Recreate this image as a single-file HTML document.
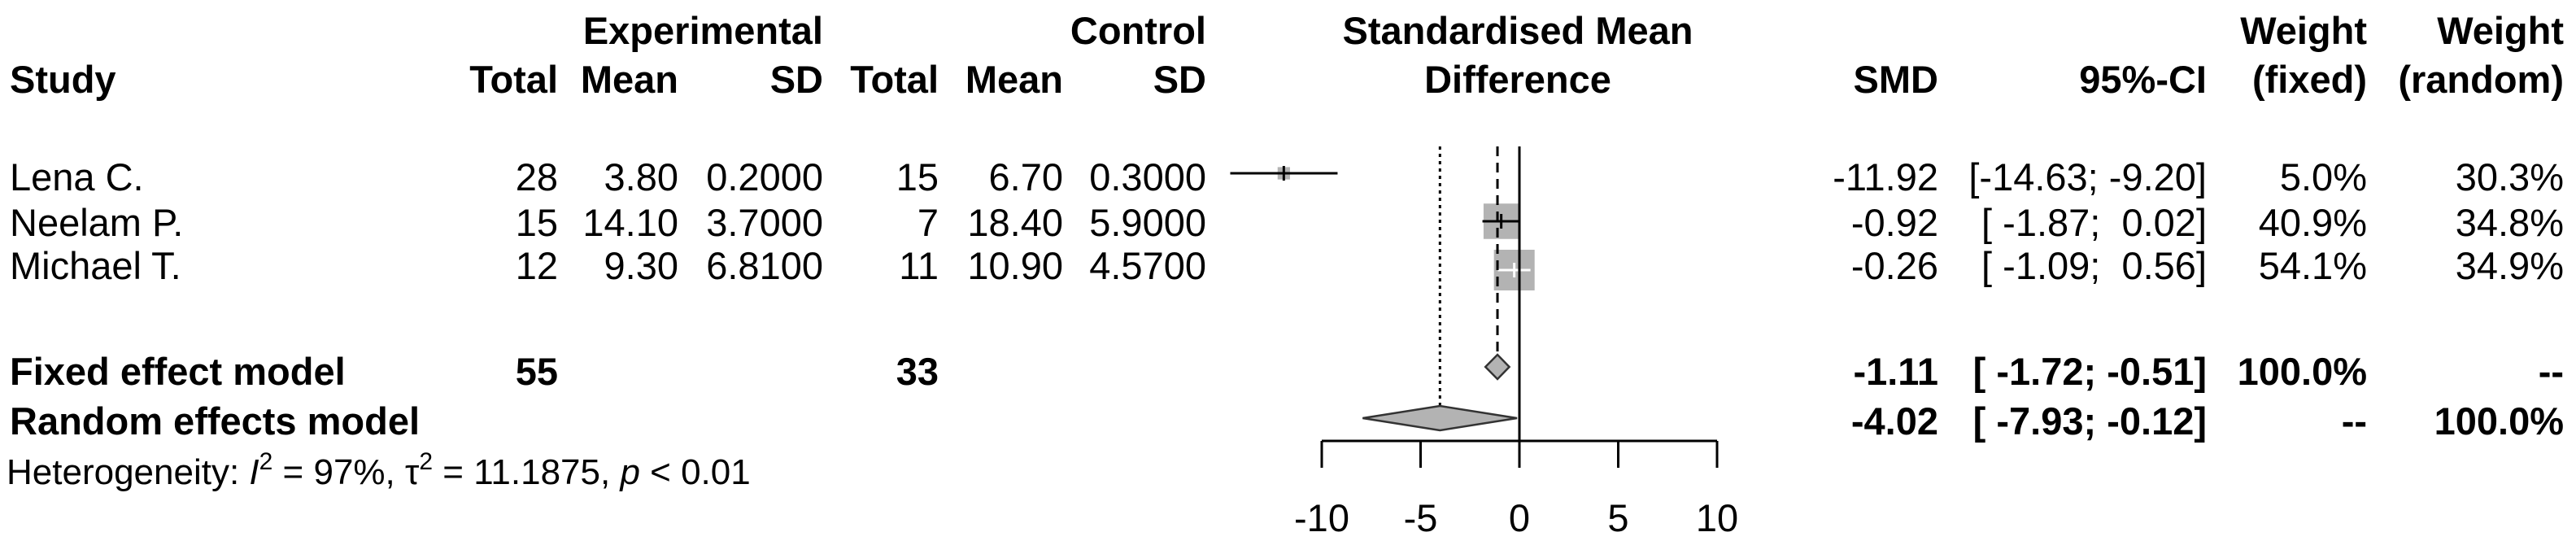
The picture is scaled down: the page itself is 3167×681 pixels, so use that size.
<!DOCTYPE html>
<html><head><meta charset="utf-8"><style>
html,body{margin:0;padding:0;background:#fff;}
svg{display:block;}
text{font-family:"Liberation Sans",Arial,sans-serif;font-size:47px;fill:#000;white-space:pre;}
.b{font-weight:bold;}
</style></head><body>
<svg id="chart" width="3167" height="681" viewBox="0 0 3167 681" xmlns="http://www.w3.org/2000/svg">
<g>
<text class="b" x="1012" y="54" text-anchor="end">Experimental</text>
<text class="b" x="1483" y="54" text-anchor="end">Control</text>
<text class="b" x="1866" y="54" text-anchor="middle">Standardised Mean</text>
<text class="b" x="1866" y="114" text-anchor="middle">Difference</text>
<text class="b" x="2910" y="54" text-anchor="end">Weight</text>
<text class="b" x="3152" y="54" text-anchor="end">Weight</text>
<text class="b" x="12" y="114">Study</text>
<text class="b" x="686" y="114" text-anchor="end">Total</text>
<text class="b" x="834" y="114" text-anchor="end">Mean</text>
<text class="b" x="1012" y="114" text-anchor="end">SD</text>
<text class="b" x="1154" y="114" text-anchor="end">Total</text>
<text class="b" x="1307" y="114" text-anchor="end">Mean</text>
<text class="b" x="1483" y="114" text-anchor="end">SD</text>
<text class="b" x="2383" y="114" text-anchor="end">SMD</text>
<text class="b" x="2713" y="114" text-anchor="end">95%-CI</text>
<text class="b" x="2910" y="114" text-anchor="end">(fixed)</text>
<text class="b" x="3152" y="114" text-anchor="end">(random)</text>
</g>
<g id="rows"></g>
<g id="plot"></g>
<text x="8" y="595" style="font-size:44px;white-space:normal">Heterogeneity: <tspan font-style="italic">I</tspan><tspan dy="-18" style="font-size:30px">2</tspan><tspan dy="18"> = 97%, τ</tspan><tspan dy="-18" style="font-size:30px">2</tspan><tspan dy="18"> = 11.1875, </tspan><tspan font-style="italic">p</tspan> &lt; 0.01</text>
</svg>
<script>
const studies = ["Lena C.", "Neelam P.", "Michael T."];
const expTotal = [28, 15, 12];
const expMean = ["3.80", "14.10", "9.30"];
const expSD = ["0.2000", "3.7000", "6.8100"];
const ctrlTotal = [15, 7, 11];
const ctrlMean = ["6.70", "18.40", "10.90"];
const ctrlSD = ["0.3000", "5.9000", "4.5700"];
const smd = [-11.92, -0.92, -0.26];
const ciLow = [-14.63, -1.87, -1.09];
const ciHigh = [-9.20, 0.02, 0.56];
const wFixed = [5.0, 40.9, 54.1];
const wRandom = [30.3, 34.8, 34.9];
const fixedModel = [-1.11, -1.72, -0.51];
const randomModel = [-4.02, -7.93, -0.12];
const xTicks = [-10, -5, 0, 5, 10];

const NS = "http://www.w3.org/2000/svg";
const X0 = 1868, PXU = 24.3;
function xs(v){ return X0 + v * PXU; }
function mk(tag, attrs, parent, txt){
  const e = document.createElementNS(NS, tag);
  for (const k in attrs) e.setAttribute(k, attrs[k]);
  if (txt !== undefined) e.textContent = txt;
  parent.appendChild(e); return e;
}
function fmt(v){ return v.toFixed(2); }
function ci(l,h){
  const a = l.toFixed(2), b = h.toFixed(2);
  return "[" + (a.length < 6 ? " " : "") + a + "; " + (b.length < 5 ? " " : "") + b + "]";
}
const rows = document.getElementById("rows");
const plot = document.getElementById("plot");
const rowBase = [234, 290, 343];
const rowMid = [213, 272, 332];
studies.forEach((s, i) => {
  const y = rowBase[i];
  const cols = [[12, s, "start"], [686, expTotal[i], "end"], [834, expMean[i], "end"], [1012, expSD[i], "end"],
    [1154, ctrlTotal[i], "end"], [1307, ctrlMean[i], "end"], [1483, ctrlSD[i], "end"],
    [2383, fmt(smd[i]), "end"], [2713, ci(ciLow[i], ciHigh[i]), "end"],
    [2910, wFixed[i].toFixed(1) + "%", "end"], [3152, wRandom[i].toFixed(1) + "%", "end"]];
  cols.forEach((c, j) => {
    const t = mk("text", {x: c[0], y: y, "text-anchor": c[2]}, rows, String(c[1]));
    
    
  });
  const ym = rowMid[i];
  const sz = Math.max(13, 6.8 * Math.sqrt(wFixed[i]));
  const box = mk("rect", {x: xs(smd[i]) - sz/2, y: ym - sz/2, width: sz, height: sz, fill: "#b3b3b3"}, plot);
  
  
  const col = i === 2 ? "#fff" : "#000";
  const ln = mk("line", {x1: xs(ciLow[i]), x2: xs(ciHigh[i]), y1: ym, y2: ym, stroke: col, "stroke-width": 3}, plot);
  
  
  const tk = mk("line", {x1: xs(smd[i]), x2: xs(smd[i]), y1: ym - 9, y2: ym + 9, stroke: col, "stroke-width": 3}, plot);
  
  
});
[[473, "Fixed effect model", "55", "33", fixedModel, "100.0%", "--"],
 [534, "Random effects model", "", "", randomModel, "--", "100.0%"]].forEach(r => {
  const cols = [[12, r[1], "start"], [686, r[2], "end"], [1154, r[3], "end"], [2383, fmt(r[4][0]), "end"],
    [2713, ci(r[4][1], r[4][2]), "end"], [2910, r[5], "end"], [3152, r[6], "end"]];
  cols.forEach(c => {
    const t = mk("text", {x: c[0], y: r[0], "text-anchor": c[2], "class": "b"}, rows, c[1]);
    
    
  });
});
const zl = mk("line", {x1: xs(0), x2: xs(0), y1: 180, y2: 542, stroke: "#000", "stroke-width": 3}, plot);


const fl = mk("line", {x1: xs(fixedModel[0]), x2: xs(fixedModel[0]), y1: 180, y2: 438, stroke: "#000", "stroke-width": 3, "stroke-dasharray": "12 8"}, plot);


const rl = mk("line", {x1: xs(randomModel[0]), x2: xs(randomModel[0]), y1: 180, y2: 500, stroke: "#000", "stroke-width": 3, "stroke-dasharray": "4 5"}, plot);


function diamond(m, y, h, name){
  const p = [[xs(m[1]), y], [xs(m[0]), y - h], [xs(m[2]), y], [xs(m[0]), y + h]].map(a => a.join(",")).join(" ");
  const d = mk("polygon", {points: p, fill: "#b3b3b3", stroke: "#333", "stroke-width": 2.5}, plot);
  
  
}
diamond(fixedModel, 451, 15, 'fixed-effect-diamond');
diamond(randomModel, 514, 15, 'random-effects-diamond');
const ax = mk("line", {x1: xs(xTicks[0]), x2: xs(xTicks[xTicks.length-1]), y1: 542, y2: 542, stroke: "#000", "stroke-width": 3}, plot);


xTicks.forEach(t => {
  const l = mk("line", {x1: xs(t), x2: xs(t), y1: 542, y2: 575, stroke: "#000", "stroke-width": 3}, plot);
  
  
  const lb = mk("text", {x: xs(t), y: 653, "text-anchor": "middle"}, plot, String(t));
  
  
});
</script>
</body></html>
